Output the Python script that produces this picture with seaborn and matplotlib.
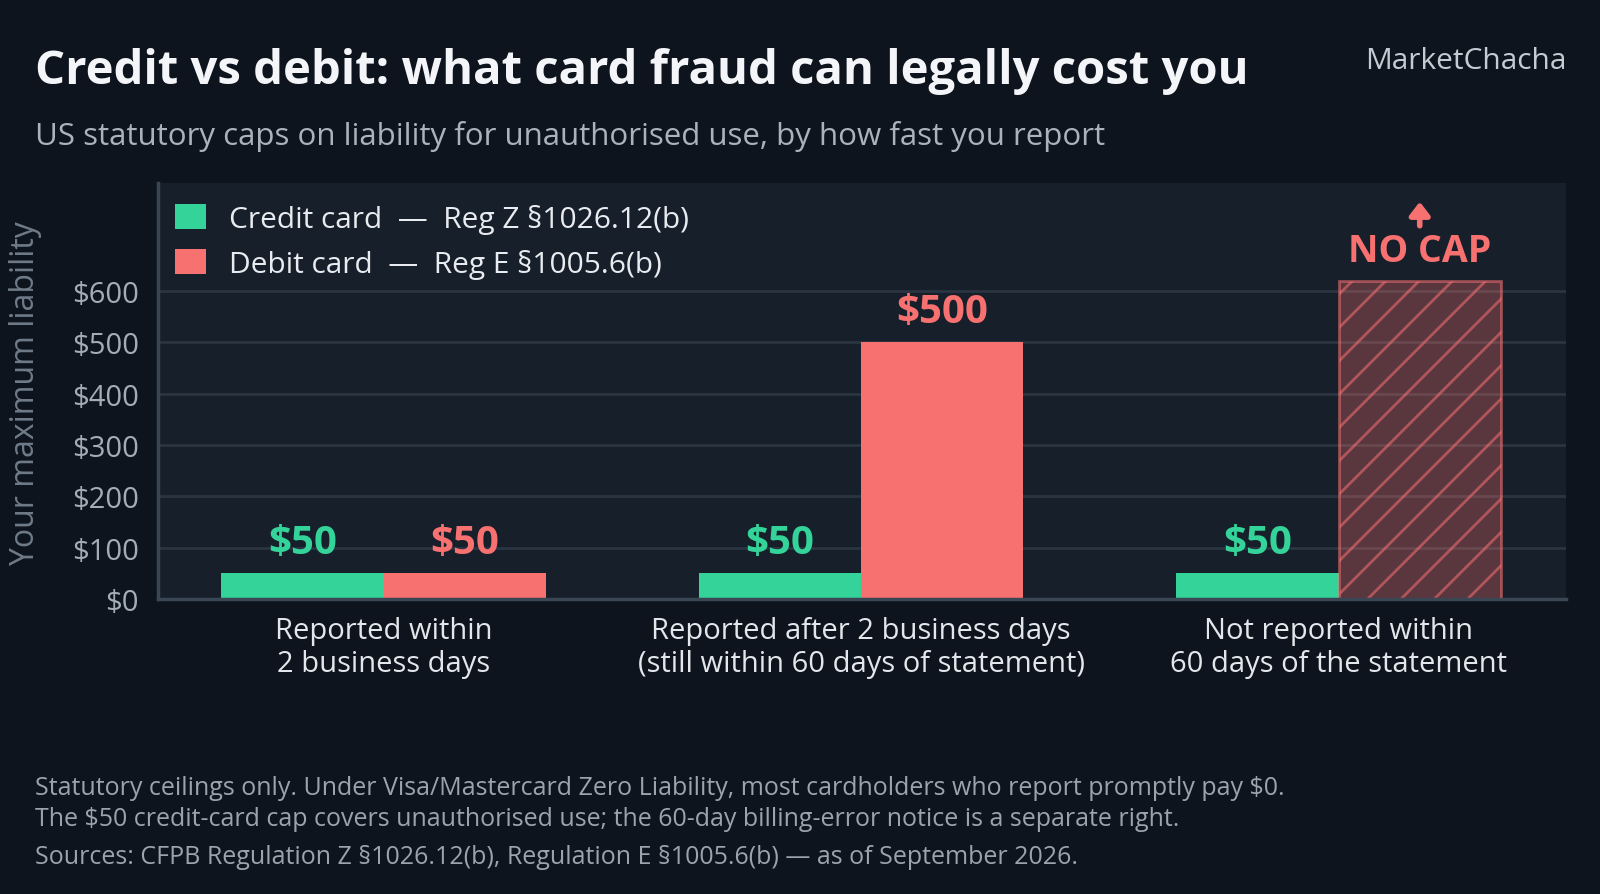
import pandas as pd
import matplotlib.pyplot as plt
import seaborn as sns
from matplotlib.patches import Patch
from matplotlib.transforms import offset_copy

# === data
scenarios = [
    "Reported within\n2 business days",
    "Reported after 2 business days\n(still within 60 days of statement)",
    "Not reported within\n60 days of the statement",
]
credit_cap = [50, 50, 50]
debit_cap = [50, 500, 620]          # 620 = drawn height for the uncapped case
debit_uncapped = [False, False, True]
card_labels = ["Credit card  —  Reg Z §1026.12(b)", "Debit card  —  Reg E §1005.6(b)"]
y_ticks = [0, 100, 200, 300, 400, 500, 600]

df = pd.DataFrame({
    "scenario": scenarios * 2,
    "cap": credit_cap + debit_cap,
    "card": ["Credit"] * 3 + ["Debit"] * 3,
})

# === style
BG = "#0e141d"
PANEL = "#161f2a"
GREEN = "#34d399"
CORAL = "#f87171"
GRID = "#2a3541"
SPINE = "#3a4653"
W, H = 1568, 877   # layout measured on this grid

sns.set_theme(style="dark")
plt.rcParams["font.family"] = ["Open Sans", "DejaVu Sans"]
plt.rcParams["hatch.linewidth"] = 2.0

fig = plt.figure(figsize=(16, 8.95), dpi=100, facecolor=BG)
ax = fig.add_axes([155 / W, 1 - 588 / H, 1380 / W, 408 / H])
ax.set_facecolor(PANEL)

sns.barplot(
    data=df, x="scenario", y="cap", hue="card",
    palette={"Credit": GREEN, "Debit": CORAL}, saturation=1,
    width=0.68, gap=0, linewidth=0, legend=False, ax=ax,
)

ax.set_xlim(-0.472, 2.477)
ax.set_ylim(0, 811)
ax.set_yticks(y_ticks)
ax.set_yticklabels([f"${v}" for v in y_ticks])
ax.set_xlabel("")
ax.set_ylabel("")
ax.grid(axis="y", color=GRID, lw=2)
ax.grid(axis="x", visible=False)
ax.set_axisbelow(True)
for s in ["top", "right"]:
    ax.spines[s].set_visible(False)
for s in ["left", "bottom"]:
    ax.spines[s].set_visible(True)
    ax.spines[s].set_color(SPINE)
    ax.spines[s].set_linewidth(2.5)
ax.tick_params(axis="y", length=0, pad=14, labelsize=21, labelcolor="#a3adb8")
ax.tick_params(axis="x", length=0, pad=12, labelsize=21, labelcolor="#e3e7ec")
for t in ax.get_xticklabels():
    t.set_linespacing(1.2)

# === value labels
bars = ax.patches
credit_bars = bars[:3]
debit_bars = bars[3:6]
for b in credit_bars:
    ax.annotate(f"${b.get_height():.0f}", (b.get_x() + b.get_width() / 2, b.get_height()),
                xytext=(0, 8), textcoords="offset points", ha="center", va="bottom",
                fontsize=29, fontweight="bold", color=GREEN)
for b, open_ended in zip(debit_bars, debit_uncapped):
    xc = b.get_x() + b.get_width() / 2
    if open_ended:
        b.set_facecolor((248 / 255, 113 / 255, 113 / 255, 0.30))
        b.set_edgecolor((248 / 255, 113 / 255, 113 / 255, 0.55))
        b.set_linewidth(2)
        b.set_hatch("/")
        ax.annotate("NO CAP", (xc, b.get_height()), xytext=(0, 8), textcoords="offset points",
                    ha="center", va="bottom", fontsize=27, fontweight="bold", color=CORAL)
        top = offset_copy(ax.transData, fig=fig, x=0, y=79, units="dots")
        ax.annotate("", xy=(xc, b.get_height()), xycoords=top,
                    xytext=(0, -24), textcoords="offset pixels",
                    arrowprops=dict(arrowstyle="-|>,head_width=0.5,head_length=0.65",
                                    color=CORAL, lw=4, shrinkA=0, shrinkB=0),
                    annotation_clip=False)
    else:
        ax.annotate(f"${b.get_height():.0f}", (xc, b.get_height()),
                    xytext=(0, 8), textcoords="offset points", ha="center", va="bottom",
                    fontsize=29, fontweight="bold", color=CORAL)

# === legend
handles = [Patch(facecolor=GREEN, edgecolor="none", label=card_labels[0]),
           Patch(facecolor=CORAL, edgecolor="none", label=card_labels[1])]
leg = ax.legend(handles=handles, loc="upper left", bbox_to_anchor=(0.012, 0.95),
                frameon=False, fontsize=21.5, handlelength=1.05, handleheight=0.95,
                handletextpad=0.75, labelspacing=0.5, borderaxespad=0, borderpad=0)
for t in leg.get_texts():
    t.set_color("#e8ebef")

# === titles and notes
fig.text(34 / W, 1 - 70 / H, "Credit vs debit: what card fraud can legally cost you",
         fontsize=34, fontweight="bold", color="#f3f5f8", va="center", ha="left")
fig.text(34 / W, 1 - 134 / H,
         "US statutory caps on liability for unauthorised use, by how fast you report",
         fontsize=22.5, color="#a9b2bd", va="center", ha="left")
fig.text(1535 / W, 1 - 60 / H, "MarketChacha", fontsize=21.5, color="#c5cbd3",
         va="center", ha="right")
fig.text(25 / W, 1 - 385 / H, "Your maximum liability", rotation=90, fontsize=23,
         color="#6f7b88", va="center", ha="center")

notes = [
    "Statutory ceilings only. Under Visa/Mastercard Zero Liability, most cardholders who report promptly pay $0.",
    "The $50 credit-card cap covers unauthorised use; the 60-day billing-error notice is a separate right.",
    "Sources: CFPB Regulation Z §1026.12(b), Regulation E §1005.6(b) — as of September 2026.",
]
for txt, ypx in zip(notes, [773, 803, 840]):
    fig.text(34 / W, 1 - ypx / H, txt, fontsize=18, color="#9aa3ae", va="center", ha="left")

fig.savefig("out.png", dpi=100, facecolor=BG)
